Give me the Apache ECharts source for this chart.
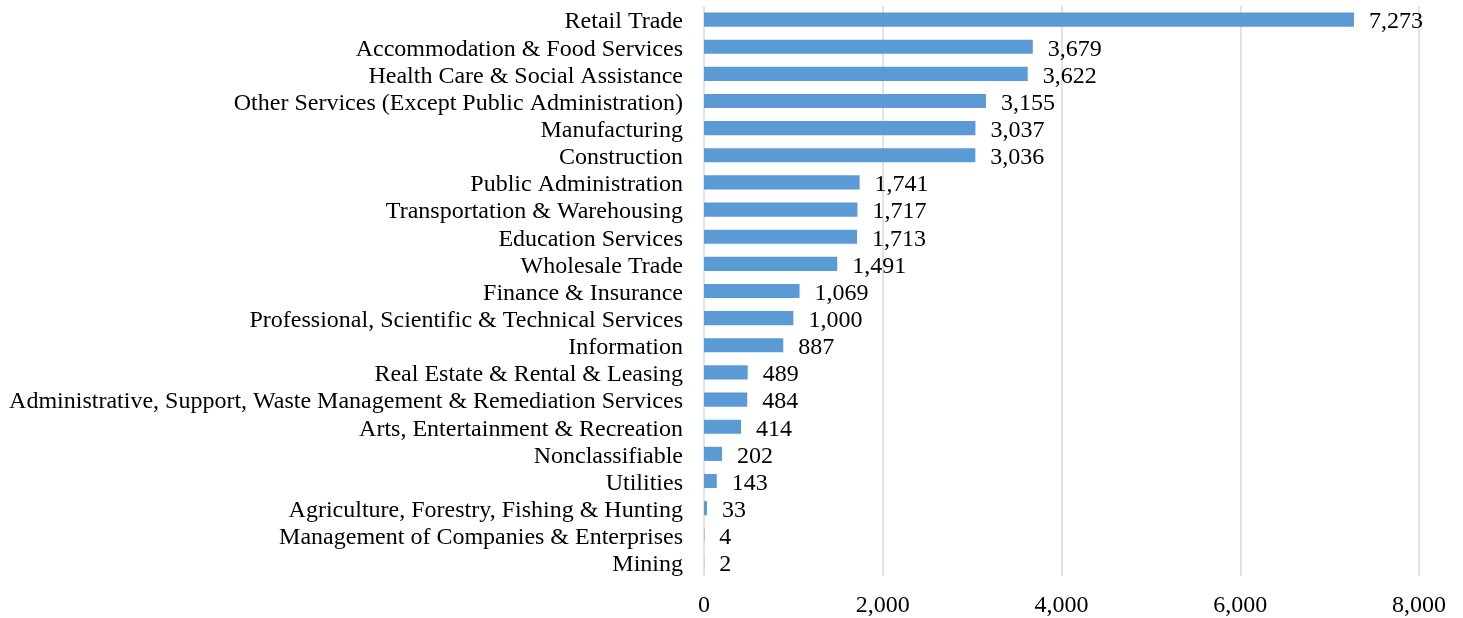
<!DOCTYPE html>
<html>
<head>
<meta charset="utf-8">
<script src="https://cdn.jsdelivr.net/npm/echarts@6/dist/echarts.min.js"></script>
<style>
  html, body { margin: 0; padding: 0; background: #ffffff; }
  #chart { width: 1463px; height: 618px; }
</style>
</head>
<body>
<div id="chart"></div>
<script>
// Industries, listed top to bottom
const categories = [
  'Retail Trade',
  'Accommodation & Food Services',
  'Health Care & Social Assistance',
  'Other Services (Except Public Administration)',
  'Manufacturing',
  'Construction',
  'Public Administration',
  'Transportation & Warehousing',
  'Education Services',
  'Wholesale Trade',
  'Finance & Insurance',
  'Professional, Scientific & Technical Services',
  'Information',
  'Real Estate & Rental & Leasing',
  'Administrative, Support, Waste Management & Remediation Services',
  'Arts, Entertainment & Recreation',
  'Nonclassifiable',
  'Utilities',
  'Agriculture, Forestry, Fishing & Hunting',
  'Management of Companies & Enterprises',
  'Mining'
];

// Count per industry
const values = [7273, 3679, 3622, 3155, 3037, 3036, 1741, 1717, 1713, 1491, 1069, 1000, 887, 489, 484, 414, 202, 143, 33, 4, 2];

// Value axis range
const axisMin = 0;
const axisMax = 8000;
const axisStep = 2000;

const fmt = v => Number(v).toLocaleString('en-US');
const font = '"Liberation Serif", "Times New Roman", serif';
// Text style that sits the labels a touch below the bar centre line
const lowered = { t: { fontFamily: font, fontSize: 24, color: '#000000', padding: [5, 0, 0, 0] } };

const chart = echarts.init(document.getElementById('chart'), null, { renderer: 'canvas' });
chart.setOption({
  animation: false,
  backgroundColor: '#ffffff',
  grid: { left: 704, right: 44, top: 6, bottom: 42, containLabel: false },
  xAxis: {
    type: 'value',
    min: axisMin,
    max: axisMax,
    interval: axisStep,
    axisLine: { show: false },
    axisTick: { show: false },
    splitLine: { show: true, lineStyle: { color: '#d9d9d9', width: 1.5 } },
    axisLabel: { color: '#000000', fontFamily: font, fontSize: 24, margin: 18, formatter: fmt }
  },
  yAxis: {
    type: 'category',
    data: categories,
    inverse: true,
    axisLine: { show: false },
    axisTick: { show: false },
    axisLabel: {
      color: '#000000', fontFamily: font, fontSize: 24, margin: 21, interval: 0,
      formatter: v => '{t|' + v + '}',
      rich: lowered
    }
  },
  series: [{
    type: 'bar',
    data: values,
    barCategoryGap: '48%',
    itemStyle: { color: '#5b9bd5' },
    label: {
      show: true,
      position: 'right',
      distance: 15,
      color: '#000000',
      fontFamily: font,
      fontSize: 24,
      formatter: p => '{t|' + fmt(p.value) + '}',
      rich: lowered
    }
  }]
});
</script>
</body>
</html>
